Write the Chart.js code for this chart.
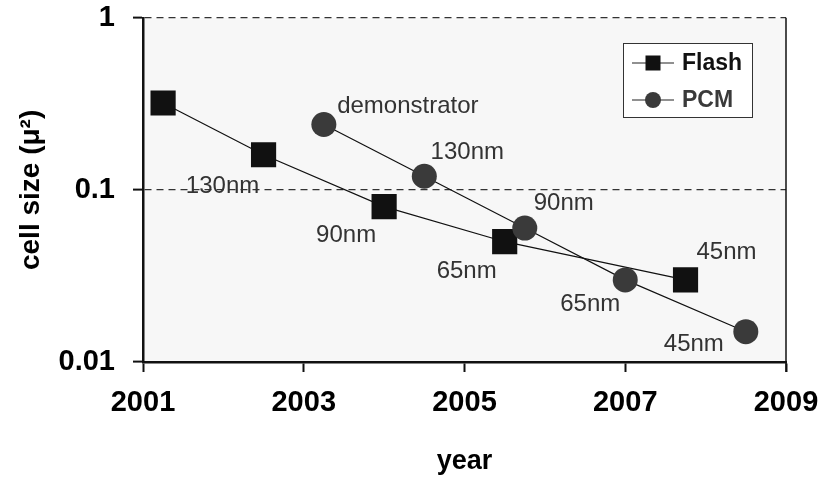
<!DOCTYPE html>
<html>
<head>
<meta charset="utf-8">
<script src="https://cdn.jsdelivr.net/npm/chart.js@4/dist/chart.umd.min.js"></script>
<style>
  html, body { margin: 0; padding: 0; background: #ffffff; }
  #wrap { width: 821px; height: 482px; }
</style>
</head>
<body>
<div id="wrap"><canvas id="c" width="821" height="482"></canvas></div>
<script>
// Memory cell size by year of introduction (square microns)
const flashYears  = [2001.25, 2002.5, 2004.0, 2005.5, 2007.75];
const flashSize   = [0.32, 0.16, 0.08, 0.05, 0.03];
const flashLabels = ['', '130nm', '90nm', '65nm', '45nm'];

const pcmYears  = [2003.25, 2004.5, 2005.75, 2007.0, 2008.5];
const pcmSize   = [0.24, 0.12, 0.06, 0.03, 0.015];
const pcmLabels = ['demonstrator', '130nm', '90nm', '65nm', '45nm'];

const xTicks = [2001, 2003, 2005, 2007, 2009];
const yTicks = [0.01, 0.1, 1];
const yTickLabels = ['0.01', '0.1', '1'];

const FONT = "'Liberation Sans', Arial, sans-serif";

// label placement relative to each marker, in pixels
const flashLabelOffsets = [[0, 0], [-41, 32], [-38, 29], [-38, 30], [41, -28]];
const pcmLabelOffsets = [[84, -18], [43, -24], [39, -25], [-35, 24], [-52, 13]];

const plotBackground = {
  id: 'plotBackground',
  beforeDraw(chart) {
    const { ctx, chartArea: a } = chart;
    ctx.save();
    ctx.fillStyle = '#f7f7f7';
    ctx.fillRect(a.left, a.top, a.right - a.left, a.bottom - a.top);
    ctx.restore();
  },
  beforeDatasetsDraw(chart) {
    const { ctx, chartArea: a } = chart;
    ctx.save();
    ctx.strokeStyle = '#111';
    ctx.lineWidth = 1.5;
    ctx.beginPath();
    ctx.moveTo(a.right, a.top);
    ctx.lineTo(a.right, a.bottom + 10);
    ctx.stroke();
    ctx.restore();
  }
};

const pointLabels = {
  id: 'pointLabels',
  afterDatasetsDraw(chart) {
    const { ctx } = chart;
    ctx.save();
    ctx.font = '24px ' + FONT;
    ctx.fillStyle = '#333333';
    ctx.textAlign = 'center';
    ctx.textBaseline = 'middle';
    chart.data.datasets.forEach((ds, di) => {
      const meta = chart.getDatasetMeta(di);
      ds.pointText.forEach((t, i) => {
        if (!t) return;
        const p = meta.data[i];
        const off = ds.pointTextOffsets[i];
        ctx.fillText(t, p.x + off[0], p.y + off[1]);
      });
    });
    ctx.restore();
  }
};

const boxLegend = {
  id: 'boxLegend',
  afterDraw(chart) {
    const { ctx } = chart;
    const x0 = 623, y0 = 43, w = 129, h = 74;
    ctx.save();
    ctx.fillStyle = '#ffffff';
    ctx.fillRect(x0, y0, w, h);
    ctx.strokeStyle = '#333';
    ctx.lineWidth = 1;
    ctx.strokeRect(x0 + 0.5, y0 + 0.5, w, h);
    const rows = [
      { ds: chart.data.datasets[1], y: 63 },
      { ds: chart.data.datasets[0], y: 100 }
    ];
    rows.forEach(r => {
      ctx.strokeStyle = '#222';
      ctx.lineWidth = 1.2;
      ctx.beginPath();
      ctx.moveTo(632, r.y);
      ctx.lineTo(674, r.y);
      ctx.stroke();
      ctx.fillStyle = r.ds.pointBackgroundColor;
      if (r.ds.pointStyle === 'rect') {
        ctx.fillRect(653 - 7.5, r.y - 7.5, 15, 15);
      } else {
        ctx.beginPath();
        ctx.arc(653, r.y, 8, 0, Math.PI * 2);
        ctx.fill();
      }
      ctx.font = 'bold 23px ' + FONT;
      ctx.textAlign = 'left';
      ctx.textBaseline = 'middle';
      ctx.fillStyle = r.ds.pointBackgroundColor;
      ctx.fillText(r.ds.label, 682, r.y + 1);
    });
    ctx.restore();
  }
};

new Chart(document.getElementById('c'), {
  type: 'line',
  data: {
    datasets: [
      {
        label: 'PCM',
        data: pcmYears.map((x, i) => ({ x, y: pcmSize[i] })),
        pointText: pcmLabels,
        pointTextOffsets: pcmLabelOffsets,
        borderColor: '#111',
        borderWidth: 1.2,
        pointStyle: 'circle',
        pointRadius: 12.5,
        pointBorderWidth: 0,
        pointBackgroundColor: '#3a3a3a',
        pointBorderColor: '#3a3a3a',
        order: 1
      },
      {
        label: 'Flash',
        data: flashYears.map((x, i) => ({ x, y: flashSize[i] })),
        pointText: flashLabels,
        pointTextOffsets: flashLabelOffsets,
        borderColor: '#111',
        borderWidth: 1.2,
        pointStyle: 'rect',
        pointRadius: 17.8,
        pointBorderWidth: 0,
        pointBackgroundColor: '#111111',
        pointBorderColor: '#111111',
        order: 2
      }
    ]
  },
  options: {
    responsive: false,
    animation: false,
    devicePixelRatio: 1,
    layout: { padding: { left: 0, top: 17, right: 35, bottom: 0 } },
    plugins: {
      legend: { display: false },
      tooltip: { enabled: false }
    },
    scales: {
      x: {
        type: 'linear',
        min: 2001,
        max: 2009,
        afterBuildTicks(scale) { scale.ticks = xTicks.map(v => ({ value: v })); },
        afterFit(scale) {
          scale.height = 120;
          scale.paddingLeft = 0;
          scale.paddingRight = 0;
        },
        ticks: {
          callback: v => String(v),
          color: '#000',
          font: { family: FONT, size: 29, weight: 'bold' },
          padding: 14,
          maxRotation: 0,
          autoSkip: false
        },
        grid: {
          drawOnChartArea: false,
          drawTicks: true,
          tickLength: 10,
          tickWidth: 2,
          tickColor: '#111'
        },
        border: { display: true, color: '#111', width: 2.5 },
        title: {
          display: true,
          text: 'year',
          color: '#000',
          font: { family: FONT, size: 27, weight: 'bold' },
          padding: { top: 0, bottom: 4 }
        }
      },
      y: {
        type: 'logarithmic',
        min: 0.01,
        max: 1,
        afterBuildTicks(scale) { scale.ticks = yTicks.map(v => ({ value: v })); },
        afterFit(scale) {
          scale.width = 143;
          scale.paddingTop = 0;
          scale.paddingBottom = 0;
        },
        ticks: {
          callback: (v) => yTickLabels[yTicks.indexOf(v)] ?? '',
          color: '#000',
          font: { family: FONT, size: 29, weight: 'bold' },
          padding: 18,
          autoSkip: false
        },
        grid: {
          drawOnChartArea: true,
          drawTicks: true,
          tickLength: 10,
          tickWidth: 2,
          tickColor: '#111',
          color: '#333',
          lineWidth: 1.2
        },
        border: { display: true, color: '#111', width: 2.5, dash: [7, 5] },
        title: {
          display: true,
          text: 'cell size (μ²)',
          color: '#000',
          font: { family: FONT, size: 28, weight: 'bold' },
          padding: { top: 14, bottom: 0 }
        }
      }
    }
  },
  plugins: [plotBackground, pointLabels, boxLegend]
});
</script>
</body>
</html>
